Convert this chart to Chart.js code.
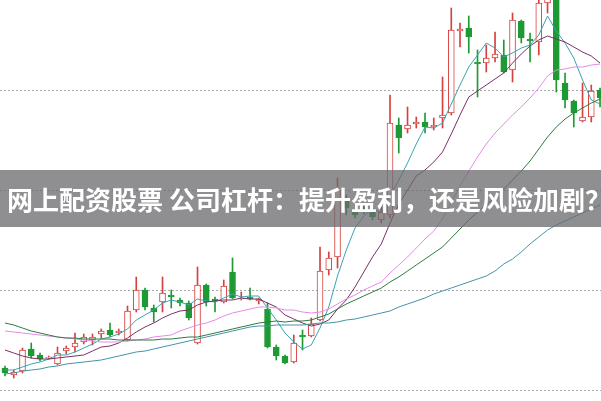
<!DOCTYPE html>
<html>
<head>
<meta charset="utf-8">
<script src="https://cdn.jsdelivr.net/npm/chart.js@4.4.1/dist/chart.umd.min.js"></script>
<style>
  html, body { margin: 0; padding: 0; background: #fff; }
  #wrap { position: relative; width: 601px; height: 401px; overflow: hidden; }
  #title {
    position: absolute; left: 0; top: 170px; width: 601px; height: 57px;
    background: rgba(105, 105, 110, 0.75); color: #fff;
    font: bold 26px "Noto Sans CJK SC", sans-serif; line-height: 57px;
    white-space: nowrap; padding-left: 7px; box-sizing: border-box;
  }
</style>
</head>
<body>
<div id="wrap">
  <canvas id="kline"></canvas>
  <div id="title">网上配资股票 公司杠杆：提升盈利，还是风险加剧？</div>
</div>
<script>
// daily candles
const opens  = [6.22,6.15,6.19,6.41,6.35,6.32,6.26,6.39,6.43,6.48,6.50,6.56,6.60,6.57,6.50,6.80,7.00,6.82,6.88,6.95,6.90,6.87,6.47,7.05,6.91,6.88,7.18,6.91,6.93,6.89,6.81,6.43,6.34,6.28,6.55,6.54,6.70,7.20,7.33,7.90,7.80,7.82,7.79,7.70,7.75,8.65,8.61,8.66,8.68,8.63,8.72,8.77,9.59,9.62,9.28,9.27,9.32,9.35,9.20,9.69,9.51,9.48,9.87,9.95,9.07,8.89,8.69,8.73,9.00];
const highs  = [6.24,6.20,6.42,6.47,6.37,6.34,6.43,6.44,6.57,6.56,6.56,6.61,6.67,6.61,6.84,7.13,7.02,6.85,7.13,7.00,6.92,6.89,7.23,7.06,6.93,7.10,7.32,6.98,7.02,6.92,6.87,6.45,6.35,6.55,6.60,6.72,7.43,7.38,8.12,7.95,7.85,7.86,7.85,7.83,8.95,8.72,8.83,8.73,8.77,8.72,9.13,9.82,9.67,9.74,9.40,9.45,9.58,9.50,9.77,9.70,9.57,9.92,10.05,10.00,9.17,8.90,9.07,9.05,9.02];
const lows   = [6.14,6.12,6.17,6.32,6.29,6.31,6.25,6.36,6.38,6.46,6.45,6.52,6.53,6.55,6.49,6.78,6.80,6.68,6.78,6.82,6.84,6.70,6.46,6.84,6.78,6.87,6.91,6.90,6.90,6.86,6.42,6.30,6.26,6.27,6.40,6.53,6.69,7.15,7.22,7.75,7.72,7.76,7.70,7.67,7.72,8.37,8.57,8.62,8.57,8.60,8.62,8.75,9.43,9.37,8.93,9.18,9.28,9.17,9.08,9.47,9.28,9.35,9.77,8.98,8.82,8.63,8.68,8.68,8.83];
const closes = [6.17,6.18,6.40,6.34,6.31,6.33,6.37,6.42,6.47,6.53,6.53,6.59,6.55,6.59,6.79,7.00,6.83,6.78,6.97,6.93,6.87,6.72,7.05,6.88,6.89,7.04,6.92,6.92,6.91,6.91,6.43,6.34,6.27,6.47,6.53,6.66,7.19,7.32,8.00,7.82,7.75,7.79,7.73,7.78,8.67,8.52,8.65,8.68,8.63,8.65,8.75,9.60,9.61,9.53,9.26,9.32,9.36,9.18,9.70,9.52,9.49,9.87,9.98,9.10,8.90,8.77,8.73,8.99,8.92];

// moving average lines as drawn
const ma5  = [6.20,6.20,6.23,6.26,6.28,6.31,6.35,6.35,6.38,6.42,6.46,6.51,6.53,6.56,6.61,6.70,6.75,6.80,6.87,6.90,6.88,6.85,6.91,6.89,6.88,6.92,6.96,6.93,6.94,6.94,6.82,6.70,6.57,6.48,6.41,6.45,6.62,6.83,7.14,7.40,7.62,7.74,7.82,7.77,7.94,8.10,8.27,8.46,8.63,8.62,8.67,8.86,9.05,9.23,9.35,9.47,9.42,9.33,9.37,9.42,9.45,9.55,9.74,9.59,9.47,9.32,9.10,8.90,8.86];
const ma10 = [6.40,6.37,6.34,6.32,6.31,6.31,6.32,6.33,6.34,6.35,6.39,6.43,6.44,6.47,6.52,6.58,6.63,6.67,6.72,6.76,6.79,6.80,6.85,6.88,6.89,6.90,6.90,6.92,6.91,6.91,6.87,6.83,6.75,6.71,6.67,6.64,6.66,6.70,6.81,6.90,7.03,7.18,7.33,7.46,7.67,7.86,8.00,8.14,8.20,8.28,8.38,8.56,8.75,8.93,8.99,9.05,9.11,9.17,9.27,9.36,9.44,9.50,9.54,9.51,9.48,9.43,9.38,9.34,9.27];
const ma20 = [6.59,6.58,6.57,6.56,6.55,6.54,6.53,6.52,6.51,6.50,6.49,6.48,6.48,6.48,6.49,6.50,6.51,6.53,6.54,6.55,6.59,6.62,6.65,6.67,6.70,6.74,6.77,6.79,6.81,6.83,6.83,6.82,6.80,6.80,6.78,6.77,6.78,6.81,6.86,6.91,6.95,7.00,7.04,7.08,7.17,7.25,7.33,7.42,7.51,7.59,7.71,7.87,8.04,8.19,8.33,8.46,8.57,8.66,8.75,8.83,8.92,9.02,9.14,9.20,9.21,9.23,9.23,9.25,9.26];
const ma30 = [6.67,6.65,6.62,6.59,6.57,6.55,6.53,6.52,6.52,6.51,6.51,6.51,6.51,6.50,6.50,6.50,6.50,6.50,6.51,6.51,6.52,6.53,6.53,6.55,6.57,6.59,6.61,6.63,6.65,6.67,6.68,6.69,6.68,6.69,6.69,6.70,6.73,6.76,6.81,6.86,6.90,6.94,6.98,7.02,7.08,7.13,7.19,7.25,7.31,7.37,7.43,7.52,7.61,7.70,7.78,7.85,7.93,8.01,8.10,8.19,8.29,8.41,8.53,8.63,8.71,8.77,8.82,8.87,8.91];
const ma60 = [6.16,6.17,6.19,6.20,6.21,6.23,6.24,6.26,6.27,6.28,6.29,6.30,6.32,6.34,6.36,6.38,6.39,6.41,6.43,6.45,6.47,6.49,6.51,6.53,6.55,6.57,6.59,6.61,6.63,6.64,6.64,6.65,6.65,6.65,6.65,6.66,6.67,6.67,6.68,6.70,6.71,6.73,6.75,6.77,6.79,6.83,6.86,6.89,6.92,6.96,6.99,7.02,7.05,7.08,7.11,7.14,7.19,7.26,7.31,7.38,7.46,7.53,7.60,7.65,7.69,7.73,7.77,7.81,7.85];

// dotted price levels
const gridLevels = [6, 7, 8, 9];

const upColor = '#d6403d';
const downColor = '#1e9a34';

const idx = opens.map((_, i) => i);
const isUp = i => closes[i] >= opens[i];

const dottedGrid = {
  id: 'dottedGrid',
  beforeDatasetsDraw(chart) {
    const { ctx, chartArea, scales } = chart;
    ctx.save();
    ctx.strokeStyle = '#a8a8a8';
    ctx.lineWidth = 1;
    ctx.setLineDash([2, 2]);
    gridLevels.forEach(v => {
      const y = Math.round(scales.y.getPixelForValue(v)) + 0.5;
      ctx.beginPath();
      ctx.moveTo(chartArea.left, y);
      ctx.lineTo(chartArea.right, y);
      ctx.stroke();
    });
    ctx.restore();
  }
};

function maLine(values, color) {
  return {
    type: 'line',
    data: idx.map(i => ({ x: i, y: values[i] })),
    borderColor: color,
    borderWidth: 1,
    pointRadius: 0,
    fill: false,
    tension: 0,
    order: 1
  };
}

new Chart(document.getElementById('kline'), {
  type: 'bar',
  data: {
    datasets: [
      {
        // wicks
        data: idx.map(i => ({ x: i, y: [lows[i], highs[i]] })),
        backgroundColor: c => isUp(c.dataIndex) ? upColor : downColor,
        borderWidth: 0,
        barThickness: 1,
        grouped: false,
        order: 3
      },
      {
        // bodies, up days hollow
        data: idx.map(i => ({ x: i, y: [opens[i], closes[i]] })),
        backgroundColor: c => isUp(c.dataIndex) ? '#ffffff' : downColor,
        borderColor: c => isUp(c.dataIndex) ? upColor : downColor,
        borderWidth: 1,
        borderSkipped: false,
        barThickness: 6,
        grouped: false,
        order: 2
      },
      maLine(ma60, '#4493a9'),
      maLine(ma30, '#2f7a3f'),
      maLine(ma20, '#e68ae8'),
      maLine(ma10, '#7a2f66'),
      maLine(ma5, '#37a3b6')
    ]
  },
  options: {
    responsive: true,
    maintainAspectRatio: false,
    animation: false,
    layout: { padding: 0 },
    scales: {
      x: { type: 'linear', offset: false, min: -0.571, max: 68.11, display: false },
      y: { min: 5.89, max: 9.90, display: false }
    },
    plugins: {
      legend: { display: false },
      tooltip: { enabled: false }
    }
  },
  plugins: [dottedGrid]
});
</script>
</body>
</html>
